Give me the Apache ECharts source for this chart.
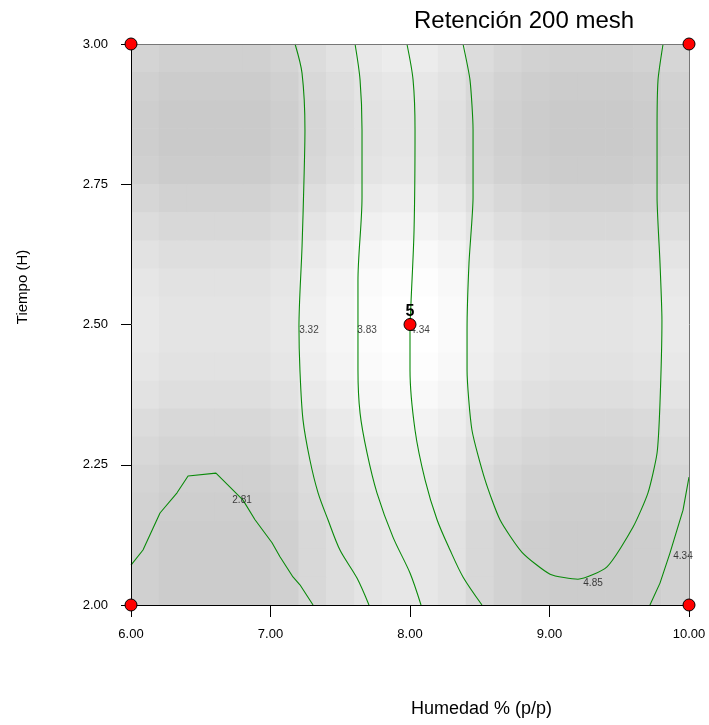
<!DOCTYPE html>
<html>
<head>
<meta charset="utf-8">
<script src="https://cdn.jsdelivr.net/npm/echarts@6/dist/echarts.min.js"></script>
<style>
  html, body { margin: 0; padding: 0; background: #fff; }
  #chart { width: 709px; height: 725px; }
</style>
</head>
<body>
<div id="chart"></div>
<script>
// gray level of each shaded cell, 20 columns (x 6 -> 10) by 20 rows (y 3 -> 2)
const shade = [
  [212,208,208,208,208,212,220,226,232,236,236,230,220,214,210,208,208,208,210,214],
  [208,204,204,204,204,208,216,222,228,231,231,226,216,210,206,204,204,204,206,210],
  [206,202,202,202,202,206,214,220,226,229,229,224,214,208,204,202,202,202,204,208],
  [206,202,202,202,202,206,214,220,226,229,229,224,214,208,204,202,202,202,204,208],
  [208,204,204,204,204,208,216,222,228,231,231,226,216,210,206,204,204,204,206,210],
  [214,210,210,210,210,214,222,228,234,237,237,232,222,216,212,210,210,210,212,216],
  [220,216,216,216,216,220,228,234,240,243,243,238,228,222,218,216,216,216,218,222],
  [226,222,222,222,222,226,234,240,246,249,249,244,234,228,224,222,222,222,224,228],
  [230,226,226,226,226,230,238,244,250,253,253,248,238,232,228,226,226,226,228,232],
  [232,228,228,228,228,232,240,246,252,255,255,250,240,234,230,228,228,228,230,234],
  [232,228,228,228,228,232,240,246,252,255,255,250,240,234,230,228,228,228,230,234],
  [230,226,226,226,226,230,238,244,250,253,253,248,238,232,228,226,226,226,228,232],
  [226,222,222,222,222,226,234,240,246,249,249,244,234,228,224,222,222,222,224,228],
  [220,216,216,216,216,220,228,234,240,243,243,238,228,222,218,216,216,216,218,222],
  [216,212,212,212,212,216,224,230,236,239,239,234,224,218,214,212,212,212,214,218],
  [212,208,208,208,208,212,220,226,232,235,235,230,220,214,210,208,208,208,210,214],
  [210,206,206,206,206,210,218,224,230,233,233,228,218,212,208,206,206,206,208,212],
  [208,204,204,204,204,208,216,222,228,231,231,226,216,210,206,204,204,204,206,210],
  [208,204,204,204,204,208,216,222,228,231,231,226,216,210,206,204,204,204,206,210],
  [208,204,204,204,204,208,216,222,228,231,231,226,216,210,206,204,204,204,206,210]
]

// contour lines [humedad, tiempo]
const c281 = [[6.000,2.071],[6.086,2.098],[6.208,2.164],[6.330,2.200],[6.409,2.230],[6.609,2.235],[6.710,2.210],[6.803,2.187],[6.889,2.152],[7.011,2.111],[7.068,2.086],[7.161,2.050],[7.211,2.036],[7.305,2.000]]
const c332 = [[7.176,3.000],[7.226,2.948],[7.247,2.847],[7.240,2.758],[7.226,2.638],[7.204,2.496],[7.211,2.419],[7.233,2.330],[7.283,2.258],[7.341,2.200],[7.412,2.152],[7.498,2.098],[7.620,2.048],[7.706,2.000]]
const c383 = [[7.606,3.000],[7.642,2.936],[7.656,2.847],[7.656,2.727],[7.627,2.579],[7.627,2.490],[7.627,2.419],[7.642,2.342],[7.692,2.271],[7.763,2.200],[7.878,2.121],[8.000,2.057],[8.079,2.000]]
const c434a = [[7.978,3.000],[8.022,2.936],[8.036,2.847],[8.029,2.668],[8.007,2.538],[8.000,2.490],[8.000,2.419],[8.036,2.312],[8.108,2.223],[8.194,2.152],[8.287,2.098],[8.380,2.050],[8.516,2.000]]
const c434b = [[10.000,2.228],[9.957,2.169],[9.864,2.093],[9.792,2.039],[9.720,2.000]]
const c485 = [[8.380,3.000],[8.430,2.936],[8.452,2.847],[8.452,2.727],[8.423,2.610],[8.409,2.490],[8.409,2.419],[8.444,2.312],[8.538,2.223],[8.645,2.152],[8.803,2.094],[9.004,2.055],[9.204,2.046],[9.412,2.068],[9.599,2.139],[9.706,2.200],[9.771,2.271],[9.792,2.360],[9.806,2.508],[9.792,2.610],[9.771,2.727],[9.771,2.847],[9.778,2.936],[9.814,3.000]]

// contour label positions and texts
const contourLabels = [
  [6.796, 2.187, '2.81'],
  [7.276, 2.490, '3.32'],
  [7.692, 2.490, '3.83'],
  [8.072, 2.490, '4.34'],
  [9.312, 2.039, '4.85'],
  [9.957, 2.087, '4.34']
]

// design points
const designPoints = [[6, 2], [6, 3], [10, 2], [10, 3]]
const centerPoint = [[8, 2.5, '5']]

const xMin = 6, xMax = 10, yMin = 2, yMax = 3
const cols = 20, rows = 20
const cellW = (xMax - xMin) / cols
const cellH = (yMax - yMin) / rows

const cells = []
shade.forEach((row, r) => {
  row.forEach((g, c) => {
    cells.push([xMin + c * cellW, yMax - r * cellH, g])
  })
})

const font = 'Liberation Sans, Arial, sans-serif'
const green = '#0a8a0a'

const chart = echarts.init(document.getElementById('chart'))

const lineOf = (data, smooth) => ({
  type: 'line',
  data,
  showSymbol: false,
  symbol: 'none',
  smooth: smooth || false,
  silent: true,
  z: 3,
  lineStyle: { color: green, width: 1.1 }
})

const option = {
  animation: false,
  title: {
    text: 'Retención 200 mesh',
    left: 409,
    top: 4,
    textStyle: { fontFamily: font, fontSize: 24, fontWeight: 'normal', color: '#000' }
  },
  grid: { left: 131, right: 20, top: 44, bottom: 120 },
  xAxis: [
    {
      type: 'value',
      min: xMin,
      max: xMax,
      interval: 1,
      position: 'bottom',
      axisLine: { show: true, lineStyle: { color: '#000', width: 1 } },
      axisTick: { show: true, length: 12, lineStyle: { color: '#000' } },
      axisLabel: {
        color: '#000', fontFamily: font, fontSize: 13, margin: 23,
        formatter: v => v.toFixed(2)
      },
      splitLine: { show: false },
      z: 10
    },
    {
      type: 'value',
      min: xMin,
      max: xMax,
      position: 'top',
      axisLine: { show: true, onZero: false, lineStyle: { color: '#777', width: 1 } },
      axisTick: { show: false },
      axisLabel: { show: false },
      splitLine: { show: false },
      z: 10
    }
  ],
  yAxis: [
    {
      type: 'value',
      min: yMin,
      max: yMax,
      interval: 0.25,
      position: 'left',
      axisLine: { show: true, lineStyle: { color: '#000', width: 1 } },
      axisTick: { show: true, length: 10, lineStyle: { color: '#000' } },
      axisLabel: {
        color: '#000', fontFamily: font, fontSize: 13, margin: 23,
        formatter: v => v.toFixed(2)
      },
      splitLine: { show: false },
      z: 10
    },
    {
      type: 'value',
      min: yMin,
      max: yMax,
      position: 'right',
      axisLine: { show: true, onZero: false, lineStyle: { color: '#777', width: 1 } },
      axisTick: { show: false },
      axisLabel: { show: false },
      splitLine: { show: false },
      z: 10
    }
  ],
  graphic: [
    {
      type: 'text',
      left: 411,
      top: 700,
      style: { text: 'Humedad % (p/p)', fontFamily: font, fontSize: 18, fill: '#000' }
    },
    {
      type: 'text',
      x: 23,
      y: 287,
      rotation: Math.PI / 2,
      style: {
        text: 'Tiempo (H)', fontFamily: font, fontSize: 15, fill: '#000',
        align: 'center', verticalAlign: 'middle'
      }
    }
  ],
  series: [
    {
      type: 'custom',
      silent: true,
      z: 1,
      data: cells,
      renderItem: function (params, api) {
        const x0 = api.value(0)
        const y0 = api.value(1)
        const g = api.value(2)
        const p0 = api.coord([x0, y0])
        const p1 = api.coord([x0 + cellW, y0 - cellH])
        return {
          type: 'rect',
          shape: {
            x: p0[0],
            y: p0[1],
            width: p1[0] - p0[0] + 0.6,
            height: p1[1] - p0[1] + 0.6
          },
          style: { fill: 'rgb(' + g + ',' + g + ',' + g + ')' }
        }
      }
    },
    lineOf(c281),
    lineOf(c332, 0.3),
    lineOf(c383, 0.3),
    lineOf(c434a, 0.3),
    lineOf(c434b),
    lineOf(c485, 0.2),
    {
      type: 'scatter',
      data: contourLabels,
      symbolSize: 0,
      silent: true,
      z: 4,
      label: {
        show: true,
        position: 'inside',
        formatter: p => p.data[2],
        fontFamily: font,
        fontSize: 10,
        color: '#111'
      }
    },
    {
      type: 'scatter',
      data: designPoints,
      symbol: 'circle',
      symbolSize: 12,
      silent: true,
      z: 20,
      clip: false,
      itemStyle: { color: '#ff0000', borderColor: '#000', borderWidth: 1, opacity: 1 }
    },
    {
      type: 'scatter',
      data: centerPoint,
      symbol: 'circle',
      symbolSize: 12,
      silent: true,
      z: 20,
      itemStyle: { color: '#ff0000', borderColor: '#000', borderWidth: 1, opacity: 1 },
      label: {
        show: true,
        position: 'top',
        distance: -2,
        formatter: p => p.data[2],
        fontFamily: font,
        fontSize: 16,
        fontWeight: 'bold',
        color: '#000'
      }
    }
  ]
}

chart.setOption(option)
</script>
</body>
</html>
